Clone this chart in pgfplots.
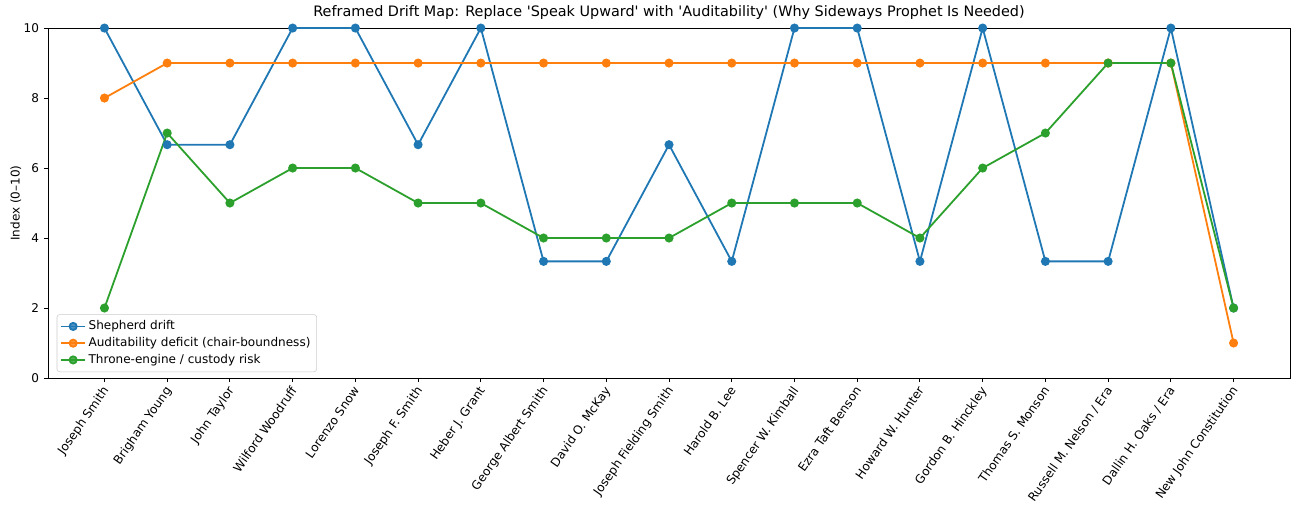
\documentclass[border=0pt]{standalone}
\usepackage{fontspec}
\setmainfont{DejaVu Sans}
\usepackage{pgfplots}
\pgfplotsset{compat=1.18}

\definecolor{cblue}{HTML}{1F77B4}
\definecolor{corange}{HTML}{FF7F0E}
\definecolor{cgreen}{HTML}{2CA02C}

\pgfplotstableread{
x drift audit throne
0  10    8 2
1  6.667 9 7
2  6.667 9 5
3  10    9 6
4  10    9 6
5  6.667 9 5
6  10    9 5
7  3.333 9 4
8  3.333 9 4
9  6.667 9 4
10 3.333 9 5
11 10    9 5
12 10    9 5
13 3.333 9 4
14 10    9 6
15 3.333 9 7
16 3.333 9 9
17 10    9 9
18 2     1 2
}\drifttable

\begin{document}
\begin{tikzpicture}
\begin{axis}[
  at={(0,0)}, anchor=south west,
  scale only axis,
  width=897.6pt, height=252.9pt,
  xmin=-0.9, xmax=18.9,
  ymin=0, ymax=10,
  xtick={0,...,18},
  xticklabels={Joseph Smith, Brigham Young, John Taylor, Wilford Woodruff, Lorenzo Snow, Joseph F. Smith, Heber J. Grant, George Albert Smith, David O. McKay, Joseph Fielding Smith, Harold B. Lee, Spencer W. Kimball, Ezra Taft Benson, Howard W. Hunter, Gordon B. Hinckley, Thomas S. Monson, Russell M. Nelson / Era, Dallin H. Oaks / Era, New John Constitution},
  xticklabel style={xshift=-2.5pt, rotate=55, anchor=north east, font=\fontsize{8.7}{10}\selectfont, inner sep=1.5pt},
  ytick={0,2,4,6,8,10},
  yticklabel style={font=\fontsize{8.7}{10}\selectfont},
  /pgf/number format/assume math mode=true,
  tick align=outside,
  tick pos=left,
  major tick length=3pt,
  tick style={black, line width=0.7pt},
  axis line style={black, line width=0.7pt},
  ylabel={Index (0–10)},
  ylabel style={font=\fontsize{8.7}{10}\selectfont, at={(axis description cs:-0.0258,0.5)}, anchor=center},
  title={Reframed Drift Map: Replace \textquotesingle Speak Upward\textquotesingle{} with \textquotesingle Auditability\textquotesingle{} (Why Sideways Prophet Is Needed)},
  title style={font=\fontsize{10.4}{12}\selectfont, yshift=-3pt},
  legend style={at={(0.007,0.017)}, anchor=south west, font=\fontsize{8.7}{10}\selectfont,
    draw=black!20, rounded corners=2pt, fill=white, fill opacity=0.8, text opacity=1,
    row sep=0pt, inner sep=2.5pt},
  legend cell align=left,
  clip=false,
]
\addplot[cblue, line width=1.3pt, mark=*, mark size=2.6pt] table[x=x, y=drift] {\drifttable};
\addlegendentry{Shepherd drift}
\addplot[corange, line width=1.3pt, mark=*, mark size=2.6pt] table[x=x, y=audit] {\drifttable};
\addlegendentry{Auditability deficit (chair-boundness)}
\addplot[cgreen, line width=1.3pt, mark=*, mark size=2.6pt] table[x=x, y=throne] {\drifttable};
\addlegendentry{Throne-engine / custody risk}
\end{axis}
\pgfresetboundingbox
\path (-34.69pt,-91.06pt) rectangle (903.35pt,273.18pt);
\end{tikzpicture}
\end{document}
